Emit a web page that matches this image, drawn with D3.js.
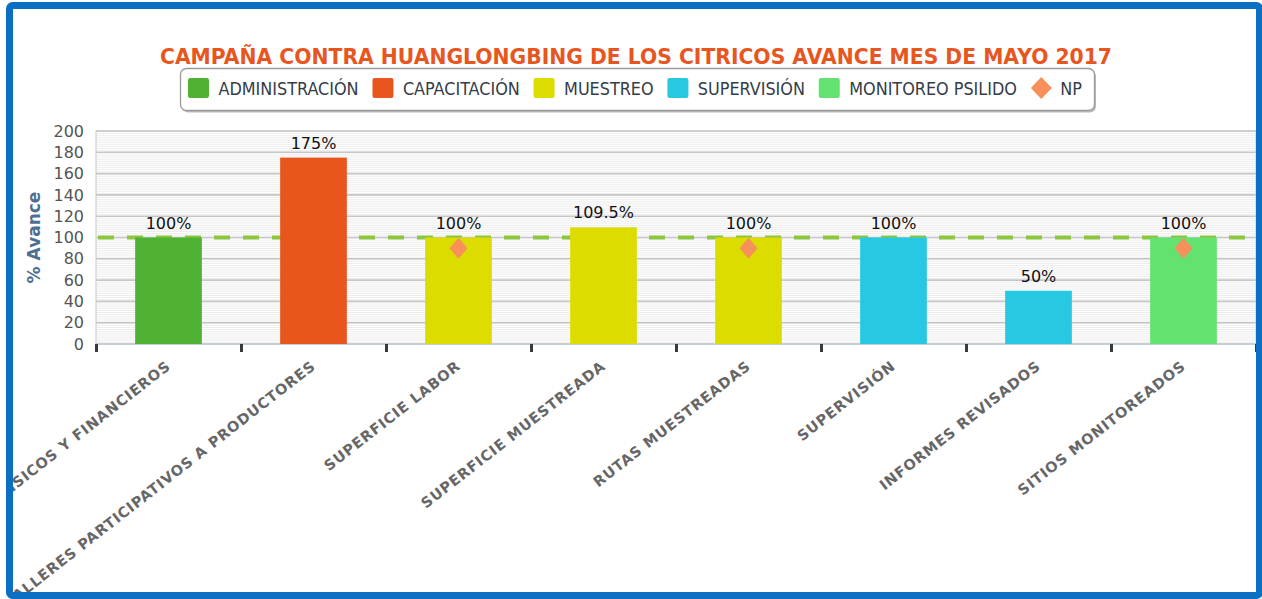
<!DOCTYPE html>
<html><head><meta charset="utf-8">
<script src="https://cdn.jsdelivr.net/npm/d3@7"></script>
<style>html,body{margin:0;padding:0;background:#fff;}svg{display:block;}</style>
</head><body>
<svg id="chart" width="1262" height="599"></svg>
<script>
// ---- data ----
const categories = ["RECURSOS FÍSICOS Y FINANCIEROS","TALLERES PARTICIPATIVOS A PRODUCTORES","SUPERFICIE LABOR","SUPERFICIE MUESTREADA","RUTAS MUESTREADAS","SUPERVISIÓN","INFORMES REVISADOS","SITIOS MONITOREADOS"];
const values = [100, 175, 100, 109.5, 100, 100, 50, 100];
const barSeries = ["ADMINISTRACIÓN","CAPACITACIÓN","MUESTREO","MUESTREO","MUESTREO","SUPERVISIÓN","SUPERVISIÓN","MONITOREO PSILIDO"];
const seriesNames = ["ADMINISTRACIÓN","CAPACITACIÓN","MUESTREO","SUPERVISIÓN","MONITOREO PSILIDO","NP"];
const seriesColors = ["#4fb233","#e9561d","#dcdc00","#27c8e2","#63e26f","#f7905a"];
const npCategories = ["SUPERFICIE LABOR","RUTAS MUESTREADAS","SITIOS MONITOREADOS"];
const npValues = [90, 90, 90];
const targetValue = 100;
const yTicks = [0,20,40,60,80,100,120,140,160,180,200];
const title = "CAMPAÑA CONTRA HUANGLONGBING DE LOS CITRICOS AVANCE MES DE MAYO 2017";
const yTitle = "% Avance";

// ---- layout ----
const svg = d3.select("#chart");
const W = 1262, H = 599;
const plot = {left:96, right:1256, top:131, bottom:344};
const color = d3.scaleOrdinal().domain(seriesNames).range(seriesColors);

const x = d3.scaleBand().domain(categories).range([plot.left, plot.right]).paddingInner(0.54).paddingOuter(0.27);
const y = d3.scaleLinear().domain([0,200]).range([plot.bottom, plot.top]);

const defs = svg.append("defs");
defs.append("clipPath").attr("id","inner").append("rect").attr("x",13).attr("y",9).attr("width",1244).attr("height",583);
const g = svg.append("g").attr("clip-path","url(#inner)");

// plot background minor stripes
const minor = d3.range(0,200,2);
g.append("g").selectAll("line").data(minor).join("line")
  .attr("x1",plot.left).attr("x2",plot.right)
  .attr("y1",d=>y(d)+0.5).attr("y2",d=>y(d)+0.5)
  .attr("stroke","#ececec").attr("stroke-width",1);
// major gridlines
g.append("g").selectAll("line").data(yTicks).join("line")
  .attr("x1",plot.left).attr("x2",plot.right)
  .attr("y1",d=>y(d)).attr("y2",d=>y(d))
  .attr("stroke","#c6c6c6").attr("stroke-width",1.6);
// plot border
g.append("rect").attr("x",plot.left).attr("y",plot.top).attr("width",plot.right-plot.left).attr("height",plot.bottom-plot.top)
  .attr("fill","none").attr("stroke","#c8c8c8").attr("stroke-width",1);

// target dashed line
g.append("line").attr("x1",plot.left+2).attr("x2",plot.right)
  .attr("y1",y(targetValue)).attr("y2",y(targetValue))
  .attr("stroke","#8dc63f").attr("stroke-width",4).attr("stroke-dasharray","16,13");

// bars
g.append("g").selectAll("rect").data(categories).join("rect")
  .attr("x",d=>x(d)).attr("width",x.bandwidth())
  .attr("y",(d,i)=>y(values[i])).attr("height",(d,i)=>y(0)-y(values[i]))
  .attr("fill",(d,i)=>color(barSeries[i]));

// data labels
g.append("g").selectAll("text").data(categories).join("text")
  .attr("x",d=>x(d)+x.bandwidth()/2).attr("y",(d,i)=>y(values[i])-9)
  .attr("text-anchor","middle").attr("font-family","DejaVu Sans").attr("font-size",16)
  .attr("fill","#111").text((d,i)=>values[i]+"%");

// NP diamonds
g.append("g").selectAll("path").data(npCategories).join("path")
  .attr("transform",(d,i)=>`translate(${x(d)+x.bandwidth()/2},${y(npValues[i])})`)
  .attr("d","M0,-10.5L9,0L0,10.5L-9,0Z").attr("fill",color("NP"));

// x axis line
g.append("line").attr("x1",plot.left).attr("x2",plot.right).attr("y1",plot.bottom+0.5).attr("y2",plot.bottom+0.5)
  .attr("stroke","#c0d0e0").attr("stroke-width",1);
// x axis ticks at category boundaries (via axis)
const xb = d3.scaleLinear().domain([0,categories.length]).range([plot.left, plot.right]);
const xAxis = g.append("g").attr("transform",`translate(0,${plot.bottom})`)
  .call(d3.axisBottom(xb).tickValues(d3.range(0,categories.length+1)).tickSize(8).tickFormat(""));
xAxis.select(".domain").remove();
xAxis.selectAll(".tick line").attr("stroke","#3a3a3a").attr("stroke-width",3);

// category labels
g.append("g").selectAll("text").data(categories).join("text")
  .attr("transform",d=>`translate(${x(d)+x.bandwidth()/2+3},${plot.bottom+24}) rotate(-38)`)
  .attr("text-anchor","end").attr("font-family","DejaVu Sans").attr("font-weight","bold")
  .attr("font-size",14.5).attr("letter-spacing",0.8).attr("fill","#666").text(d=>d);

// y axis
const yAxis = svg.append("g").attr("transform",`translate(${plot.left-12},0)`)
  .call(d3.axisLeft(y).tickValues(yTicks).tickSize(0).tickPadding(0));
yAxis.select(".domain").remove();
yAxis.selectAll("text").attr("font-family","DejaVu Sans").attr("font-size",16).attr("fill","#555");

// y title
svg.append("text").attr("transform",`translate(40,${(plot.top+plot.bottom)/2}) rotate(-90)`)
  .attr("text-anchor","middle").attr("font-family","DejaVu Sans").attr("font-weight","bold")
  .attr("font-size",17).attr("fill","#4f6f92").text(yTitle);

// title
svg.append("text").attr("x",636).attr("y",64).attr("text-anchor","middle")
  .attr("font-family","DejaVu Sans").attr("font-weight","bold").attr("font-size",21)
  .attr("fill","#e8561f").attr("textLength",952).attr("lengthAdjust","spacingAndGlyphs").text(title);

// legend
const lg = svg.append("g");
const shadow = lg.append("rect"), box = lg.append("rect");
const items = lg.append("g");
let cx = 0;
seriesNames.forEach((name,i)=>{
  const it = items.append("g").attr("transform",`translate(${cx},0)`);
  if(name==="NP"){
    it.append("path").attr("d","M10,-11L20,0L10,11L0,0Z").attr("fill",color(name));
  } else {
    it.append("rect").attr("x",0).attr("y",-10).attr("width",20).attr("height",20).attr("rx",2).attr("fill",color(name));
  }
  const t = it.append("text").attr("x",name==="NP"?28:29).attr("y",6.5).attr("font-family","DejaVu Sans Condensed")
    .attr("font-size",17).attr("fill","#333c48").text(name);
  cx += 29 + t.node().getComputedTextLength() + 13;
});
const totalW = cx - 13;
const lx = 188, lcy = 88;
box.attr("x",180.5).attr("y",68.5).attr("width",914).attr("height",42).attr("rx",6)
  .attr("fill","#fff").attr("stroke","#9a9a9a").attr("stroke-width",1.3);
shadow.attr("x",182).attr("y",70.5).attr("width",914).attr("height",42).attr("rx",6)
  .attr("fill","#bbb");
const target = 1083 - 188;
items.attr("transform",`translate(${lx},${lcy}) scale(${target/totalW},1)`);

// frame
svg.append("rect").attr("x",0).attr("y",0).attr("width",6).attr("height",H).attr("fill","#fff");
svg.append("rect").attr("x",9.5).attr("y",5.5).attr("width",1250).attr("height",590).attr("rx",3)
  .attr("fill","none").attr("stroke","#0b6fc3").attr("stroke-width",7);
</script>
</body></html>
